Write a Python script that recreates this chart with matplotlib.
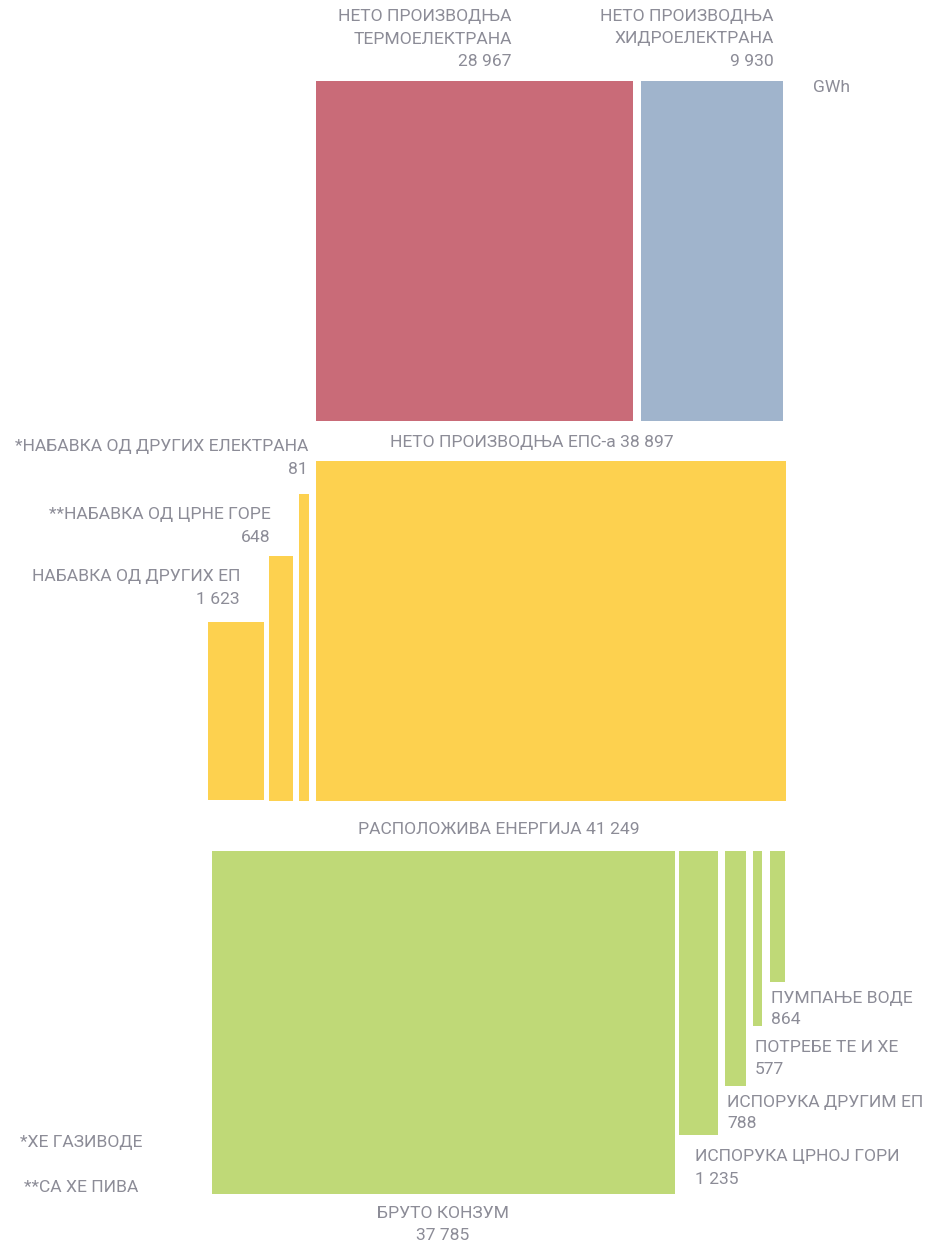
import matplotlib.pyplot as plt
from matplotlib import font_manager

# data
prod_labels = ['НЕТО ПРОИЗВОДЊА\nТЕРМОЕЛЕКТРАНА', 'НЕТО ПРОИЗВОДЊА\nХИДРОЕЛЕКТРАНА']
prod_values = [28967, 9930]
eps_label = 'НЕТО ПРОИЗВОДЊА ЕПС-а'
eps_value = 38897
buy_labels = ['НАБАВКА ОД ДРУГИХ ЕП', '**НАБАВКА ОД ЦРНЕ ГОРЕ', '*НАБАВКА ОД ДРУГИХ ЕЛЕКТРАНА']
buy_values = [1623, 648, 81]
avail_label = 'РАСПОЛОЖИВА ЕНЕРГИЈА'
avail_value = 41249
use_labels = ['БРУТО КОНЗУМ', 'ИСПОРУКА ЦРНОЈ ГОРИ', 'ИСПОРУКА ДРУГИМ ЕП', 'ПОТРЕБЕ ТЕ И ХЕ', 'ПУМПАЊЕ ВОДЕ']
use_values = [37785, 1235, 788, 577, 864]
notes = ['*ХЕ ГАЗИВОДЕ', '**СА ХЕ ПИВА']
unit = 'GWh'


def fmt(v):
    return f'{v:,}'.replace(',', ' ')


# layout in pixels (left, right, top, bottom)
prod_boxes = [(316, 633, 81, 421), (641, 783, 81, 421)]
eps_box = (316, 786, 461, 801)
buy_boxes = [(208, 264, 622, 800), (269, 293, 556, 801), (299, 309, 494, 801)]
use_boxes = [(212, 675, 851, 1194), (679, 718, 851, 1135), (725, 746, 851, 1086),
             (753, 762, 851, 1026), (770, 785, 851, 982)]

red = '#C96B78'
blue = '#A0B4CC'
yellow = '#FDD14F'
green = '#BFD977'
grey = '#8C8C97'

names = [f.name for f in font_manager.fontManager.ttflist]
plt.rcParams['font.family'] = ['Roboto' if 'Roboto' in names else 'Liberation Sans', 'DejaVu Sans']

fig = plt.figure(figsize=(9.29, 12.45), dpi=100)
ax = fig.add_axes([0, 0, 1, 1])
ax.set_xlim(0, 929)
ax.set_ylim(1245, 0)
ax.axis('off')


def box(b, c):
    ax.bar(b[0], b[3] - b[2], width=b[1] - b[0], bottom=b[2], align='edge', color=c, linewidth=0)


for b, c in zip(prod_boxes, [red, blue]):
    box(b, c)
box(eps_box, yellow)
for b in buy_boxes:
    box(b, yellow)
for b in use_boxes:
    box(b, green)

fs = 12.6
tk = dict(color=grey, fontsize=fs, fontweight='normal', va='center')

# top labels
for lab, v, xr in zip(prod_labels, prod_values, [512, 774]):
    l1, l2 = lab.split('\n')
    ax.text(xr, 16, l1, ha='right', **tk)
    ax.text(xr, 39, l2, ha='right', **tk)
    ax.text(xr, 61, fmt(v), ha='right', **tk)
ax.text(813, 88, unit, ha='left', **tk)

ax.text(532, 442, f'{eps_label} {fmt(eps_value)}', ha='center', **tk)

# purchases
for lab, v, xr, y in zip(buy_labels, buy_values, [240, 271, 308], [576, 514, 446]):
    ax.text(xr, y, lab, ha='right', **tk)
    ax.text(xr, y + 23, fmt(v), ha='right', **tk)

ax.text(499, 829, f'{avail_label} {fmt(avail_value)}', ha='center', **tk)

# consumption
ax.text(443, 1214, use_labels[0], ha='center', **tk)
ax.text(443, 1236, fmt(use_values[0]), ha='center', **tk)
for lab, v, xl, y in zip(use_labels[1:], use_values[1:], [695, 727, 755, 771], [1157, 1102, 1048, 998]):
    ax.text(xl, y, lab, ha='left', **tk)
    ax.text(xl, y + 22, fmt(v), ha='left', **tk)

for n, xl, y in zip(notes, [20, 24], [1142, 1188]):
    ax.text(xl, y, n, ha='left', **tk)

fig.savefig('out.png', dpi=100)
